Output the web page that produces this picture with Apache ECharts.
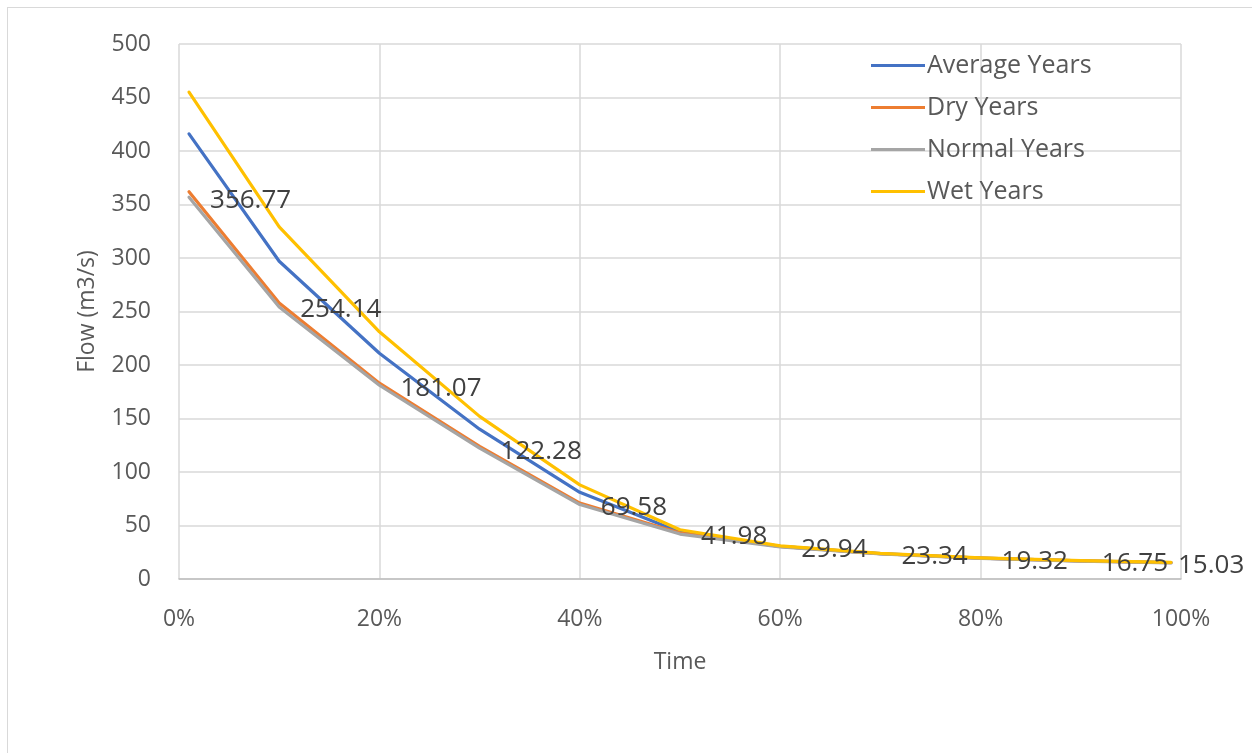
<!DOCTYPE html>
<html>
<head>
<meta charset="utf-8">
<script src="https://cdn.jsdelivr.net/npm/echarts@6/dist/echarts.min.js"></script>
<style>
  html, body { margin: 0; padding: 0; background: #fff; }
  #frame { position: absolute; left: 7px; top: 7px; width: 1260px; height: 760px; border: 1px solid #D9D9D9; box-sizing: border-box; }
  #chart { position: absolute; left: 0; top: 0; width: 1252px; height: 753px; }
</style>
</head>
<body>
<div id="frame"></div>
<div id="chart"></div>
<script>
// Exceedance time (%) for each point
const timePct = [1, 10, 20, 30, 40, 50, 60, 70, 80, 90, 99];
// Flow values (m3/s)
const averageYears = [416, 297, 211, 140, 81, 44, 30.5, 23.8, 19.6, 17, 15.4];
const dryYears     = [362, 258, 183, 124, 71, 43, 30.5, 23.6, 19.5, 16.9, 15.2];
const normalYears  = [356.77, 254.14, 181.07, 122.28, 69.58, 41.98, 29.94, 23.34, 19.32, 16.75, 15.03];
const wetYears     = [455, 329, 231, 152, 88, 46, 31, 24, 19.8, 17.2, 15.6];
const seriesNames = ['Average Years', 'Dry Years', 'Normal Years', 'Wet Years'];
const xTicks = [0, 20, 40, 60, 80, 100];
const yMax = 500, yStep = 50;

const colors = ['#4472C4', '#ED7D31', '#A5A5A5', '#FFC000'];
const FONT = '"Open Sans", sans-serif';

function pairs(vals) { return vals.map((v, i) => [timePct[i], v]); }

function makeSeries(name, vals, color, withLabels) {
  const s = {
    name: name,
    type: 'line',
    data: pairs(vals),
    showSymbol: false,
    symbol: 'none',
    lineStyle: { color: color, width: 3.2, cap: 'round', join: 'round' },
    itemStyle: { color: color },
    emphasis: { disabled: true },
    animation: false
  };
  if (withLabels) {
    s.showSymbol = true;
    s.symbol = 'circle';
    s.symbolSize = 0.001;
    s.label = {
      show: true,
      position: 'right',
      distance: 21,
      offset: [0, 3],
      color: '#404040',
      fontFamily: FONT,
      fontSize: 26,
      formatter: p => p.value[1].toFixed(2)
    };
    // last label was nudged close to its point in the reference
    s.data = s.data.map((d, i) => i === vals.length - 1
      ? { value: d, label: { distance: 7 } } : d);
  }
  return s;
}

const chart = echarts.init(document.getElementById('chart'), null, { renderer: 'canvas' });
chart.setOption({
  backgroundColor: 'transparent',
  animation: false,
  color: colors,
  grid: { left: 179, right: 71, top: 44, bottom: 174, containLabel: false },
  legend: {
    orient: 'vertical',
    left: 866,
    top: 48,
    itemWidth: 54,
    itemHeight: 14,
    itemGap: 17,
    data: seriesNames,
    textStyle: { color: '#595959', fontFamily: FONT, fontSize: 25, padding: [0, 0, 0, -3] },
    icon: 'path://M0,6 L54,6 L54,9 L0,9 Z'
  },
  xAxis: {
    type: 'value',
    min: xTicks[0],
    max: xTicks[xTicks.length - 1],
    interval: 20,
    name: 'Time',
    nameLocation: 'middle',
    nameGap: 72,
    nameTextStyle: { color: '#595959', fontFamily: FONT, fontSize: 23 },
    axisLine: { show: true, lineStyle: { color: '#BFBFBF', width: 1.5 } },
    axisTick: { show: false },
    splitLine: { show: true, lineStyle: { color: '#D9D9D9', width: 1.5 } },
    axisLabel: { color: '#595959', fontFamily: FONT, fontSize: 23, margin: 29, formatter: '{value}%' }
  },
  yAxis: {
    type: 'value',
    min: 0,
    max: yMax,
    interval: yStep,
    name: 'Flow (m3/s)',
    nameLocation: 'middle',
    nameGap: 80,
    nameTextStyle: { color: '#595959', fontFamily: FONT, fontSize: 23 },
    axisLine: { show: false },
    axisTick: { show: false },
    splitLine: { show: true, lineStyle: { color: '#D9D9D9', width: 1.5 } },
    axisLabel: { color: '#595959', fontFamily: FONT, fontSize: 23, margin: 28 }
  },
  series: [
    makeSeries(seriesNames[0], averageYears, colors[0], false),
    makeSeries(seriesNames[1], dryYears, colors[1], false),
    makeSeries(seriesNames[2], normalYears, colors[2], true),
    makeSeries(seriesNames[3], wetYears, colors[3], false)
  ]
});
</script>
</body>
</html>
